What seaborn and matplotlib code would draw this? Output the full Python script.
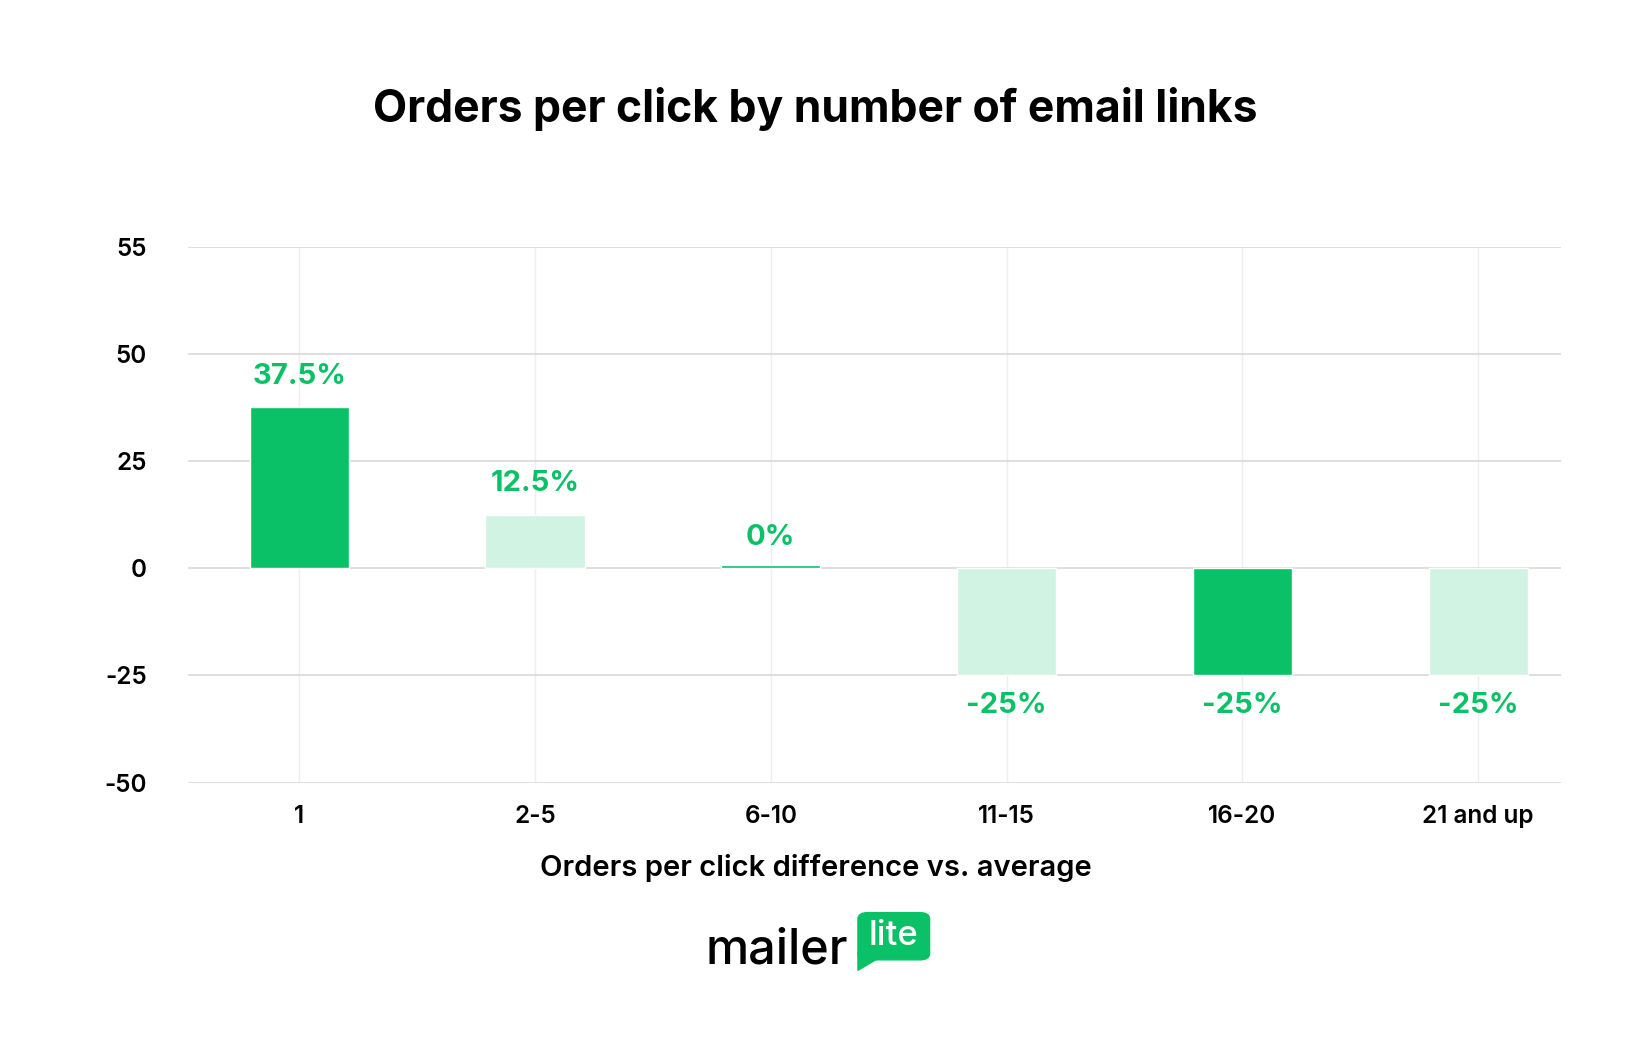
import matplotlib
matplotlib.use("Agg")
import matplotlib.pyplot as plt
import seaborn as sns
import pandas as pd
from matplotlib.patches import FancyBboxPatch, Polygon

categories = ["1", "2-5", "6-10", "11-15", "16-20", "21 and up"]
values = [37.5, 12.5, 0, -25, -25, -25]
labels = ["37.5%", "12.5%", "0%", "-25%", "-25%", "-25%"]
ytick_pos = [-50, -25, 0, 25, 50, 75]
ytick_labels = ["-50", "-25", "0", "25", "50", "55"]

DARK = "#0BC167"
LIGHT = "#D0F3E3"
colors = [DARK, LIGHT, DARK, LIGHT, DARK, LIGHT]

sns.set_style("white")
plt.rcParams["font.family"] = ["Inter", "DejaVu Sans"]
plt.rcParams["text.color"] = "black"
plt.rcParams["xtick.color"] = "black"
plt.rcParams["ytick.color"] = "black"
plt.rcParams["axes.labelcolor"] = "black"

df = pd.DataFrame({"cat": categories, "val": values})
fig = plt.figure(figsize=(16.28, 10.49), dpi=100)
ax = fig.add_axes([0.1157, 0.254, 0.843, 0.511])

# tiny visible height for the zero bar
df["plot"] = [v if v != 0 else 0.8 for v in values]
sns.barplot(data=df, x="cat", y="plot", hue="cat", palette=colors, legend=False,
            width=0.42, saturation=1, ax=ax, zorder=3)

ax.set_xlim(-0.47, 5.35)
ax.set_ylim(-50, 75)
ax.set_yticks(ytick_pos)
ax.set_yticklabels(ytick_labels)
ax.grid(axis="y", color="#D9D9D9", linewidth=1.2, zorder=0)
ax.grid(axis="x", color="#EEEEEE", linewidth=1, zorder=0)
for s in ax.spines.values():
    s.set_visible(False)
ax.tick_params(length=0, labelsize=17.5)
ax.tick_params(axis="x", pad=16)
ax.tick_params(axis="y", pad=30)
for t in ax.get_xticklabels() + ax.get_yticklabels():
    t.set_fontweight("semibold")
ax.set_ylabel("")
ax.set_xlabel("")

fig.text(0.501, 0.173, "Orders per click difference vs. average", ha="center",
         va="center", fontsize=21, fontweight="semibold")

for i, (v, lab) in enumerate(zip(values, labels)):
    if v >= 0:
        ax.text(i, v + 4, lab, ha="center", va="bottom", color=DARK,
                fontsize=21, fontweight="bold")
    else:
        ax.text(i, v - 4, lab, ha="center", va="top", color=DARK,
                fontsize=21, fontweight="bold")

fig.text(0.501, 0.896, "Orders per click by number of email links", ha="center",
         va="center", fontsize=32, fontweight="bold")

# logo
fig.text(0.521, 0.094, "mailer", ha="right", va="center", fontsize=35, fontweight="medium")
box = FancyBboxPatch((0.529, 0.087), 0.04, 0.041, boxstyle="round,pad=0.002,rounding_size=0.006",
                     transform=fig.transFigure, color=DARK)
fig.patches.append(box)
fig.patches.append(Polygon([[0.527, 0.092], [0.527, 0.075], [0.539, 0.086]],
                           closed=True, transform=fig.transFigure, color=DARK))
fig.text(0.549, 0.108, "lite", ha="center", va="center", fontsize=25,
         color="white", fontweight="medium")

fig.savefig("out.png", dpi=100)
